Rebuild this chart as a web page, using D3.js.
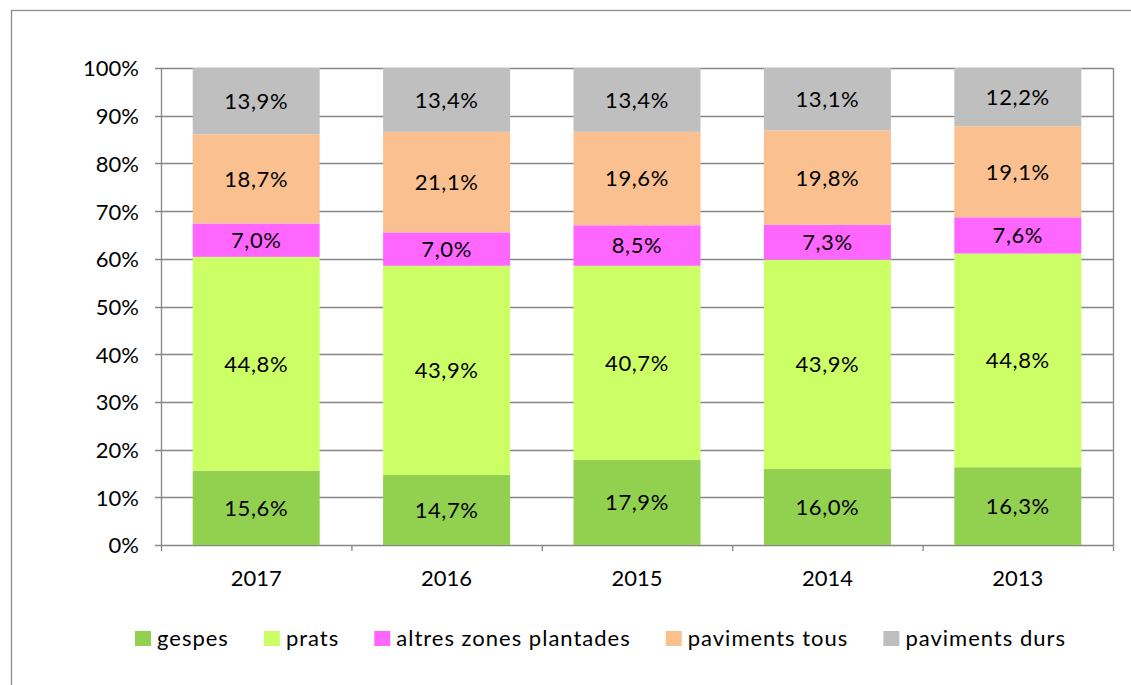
<!DOCTYPE html>
<html>
<head>
<meta charset="utf-8">
<script src="https://cdn.jsdelivr.net/npm/d3@7"></script>
<style>
  body { margin: 0; background: #fff; }
  svg text { font-family: Lato, "Open Sans", sans-serif; fill: #000; }
</style>
</head>
<body>
<div id="chart"></div>
<script>
//Datos
const YEARS = ['2017', '2016', '2015', '2014', '2013'];
const SERIES = ['gespes', 'prats', 'altres zones plantades', 'paviments tous', 'paviments durs'];
const GESPES = [15.6, 14.7, 17.9, 16.0, 16.3];
const PRATS = [44.8, 43.9, 40.7, 43.9, 44.8];
const ALTRES = [7.0, 7.0, 8.5, 7.3, 7.6];
const TOUS = [18.7, 21.1, 19.6, 19.8, 19.1];
const DURS = [13.9, 13.4, 13.4, 13.1, 12.2];
const Y_TICKS = [0, 0.1, 0.2, 0.3, 0.4, 0.5, 0.6, 0.7, 0.8, 0.9, 1];

//Colores
const COLORS = ['#92D050', '#CCFF66', '#FF66FF', '#FAC090', '#BFBFBF'];
const GRID = '#868686';

let width = 1131, height = 685;
let margin = { top: 68, right: 18, bottom: 140, left: 161 };

let svg = d3.select('#chart').append('svg')
    .attr('width', width)
    .attr('height', height);

//Borde exterior
svg.append('rect')
    .attr('x', 11.5).attr('y', 10.5)
    .attr('width', 1200).attr('height', 800)
    .attr('fill', 'none')
    .attr('stroke', '#8c8c8c')
    .attr('stroke-width', 1.3);

let x = d3.scaleBand()
    .domain(YEARS)
    .range([margin.left, width - margin.right])
    .paddingInner(0.333)
    .paddingOuter(0.1665);

let y = d3.scaleLinear()
    .domain([0, 1])
    .range([height - margin.bottom, margin.top]);

//Tabla para el apilado (normalizado al 100%)
let table = YEARS.map(function(year, i) {
    let vals = [GESPES[i], PRATS[i], ALTRES[i], TOUS[i], DURS[i]];
    let total = d3.sum(vals);
    let row = { year: year };
    SERIES.forEach(function(s, j) { row[s] = vals[j] / total; row[s + '_raw'] = vals[j]; });
    return row;
});

let stacked = d3.stack().keys(SERIES)(table);

//Rejilla
svg.append('g')
    .selectAll('line')
    .data(Y_TICKS)
    .enter()
    .append('line')
    .attr('x1', margin.left - 6)
    .attr('x2', width - margin.right)
    .attr('y1', function(d) { return Math.round(y(d)) + 0.5; })
    .attr('y2', function(d) { return Math.round(y(d)) + 0.5; })
    .attr('stroke', GRID)
    .attr('stroke-width', 1.3);

//Borde derecho del área de trazado
svg.append('line')
    .attr('x1', width - margin.right + 0.5).attr('x2', width - margin.right + 0.5)
    .attr('y1', y(1)).attr('y2', y(0))
    .attr('stroke', GRID).attr('stroke-width', 1.3);

//Barras
let groups = svg.append('g')
    .selectAll('g')
    .data(stacked)
    .enter()
    .append('g')
    .attr('fill', function(d, i) { return COLORS[i]; });

groups.selectAll('rect')
    .data(function(d) { return d.map(function(p) { p.key = d.key; return p; }); })
    .enter()
    .append('rect')
    .attr('x', function(d) { return x(d.data.year); })
    .attr('width', x.bandwidth())
    .attr('y', function(d) { return y(d[1]); })
    .attr('height', function(d) { return y(d[0]) - y(d[1]); });

groups.selectAll('text')
    .data(function(d) { return d; })
    .enter()
    .append('text')
    .attr('x', function(d) { return x(d.data.year) + x.bandwidth() / 2; })
    .attr('y', function(d) { return (y(d[0]) + y(d[1])) / 2; })
    .attr('dy', '0.36em')
    .attr('text-anchor', 'middle')
    .style('font-size', '22px')
    .style('letter-spacing', '0.6px')
    .text(function(d) { return d.data[d.key + '_raw'].toFixed(1).replace('.', ',') + '%'; });

//Eje Y
let yAxis = svg.append('g')
    .attr('transform', 'translate(' + margin.left + ',0)')
    .call(d3.axisLeft(y).tickValues(Y_TICKS).tickSize(0).tickPadding(22)
        .tickFormat(function(d) { return Math.round(d * 100) + '%'; }));
yAxis.select('.domain').attr('stroke', GRID).attr('stroke-width', 1.3);
yAxis.selectAll('text').style('font-size', '22px').attr('dy', '0.36em');

//Eje X
let xAxis = svg.append('g')
    .attr('transform', 'translate(0,' + (Math.round(y(0)) + 0.5) + ')')
    .call(d3.axisBottom(x).tickSize(0).tickPadding(25));
xAxis.select('.domain').remove();
xAxis.selectAll('text').style('font-size', '22px');

//Marcas entre categorías
let step = x.step();
svg.append('g')
    .selectAll('line')
    .data(d3.range(YEARS.length + 1))
    .enter()
    .append('line')
    .attr('x1', function(d) { return margin.left + d * step + 0.5; })
    .attr('x2', function(d) { return margin.left + d * step + 0.5; })
    .attr('y1', y(0))
    .attr('y2', y(0) + 6)
    .attr('stroke', GRID)
    .attr('stroke-width', 1.3);

//Leyenda
let legend = svg.append('g').attr('transform', 'translate(135,638)');
let lx = 0;
SERIES.forEach(function(s, i) {
    let item = legend.append('g').attr('transform', 'translate(' + lx + ',0)');
    item.append('rect')
        .attr('x', 0).attr('y', -7)
        .attr('width', 16).attr('height', 15)
        .attr('fill', COLORS[i]);
    let t = item.append('text')
        .attr('x', 22)
        .attr('y', 0)
        .attr('dy', '0.36em')
        .style('font-size', '22px')
        .style('letter-spacing', '1px')
        .text(s);
    lx += 22 + t.node().getComputedTextLength() + 35;
});
</script>
</body>
</html>
